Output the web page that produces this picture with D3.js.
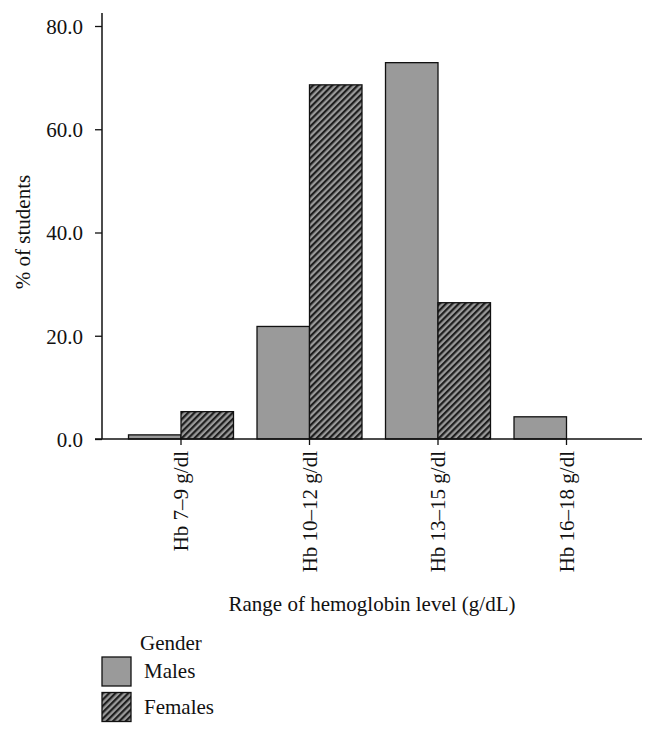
<!DOCTYPE html>
<html><head><meta charset="utf-8">
<script src="https://cdn.jsdelivr.net/npm/d3@7"></script>
<style>body{margin:0;background:#fff}svg{display:block}text{font-family:"Liberation Serif","DejaVu Serif",serif;fill:#111}</style>
</head><body>
<script>
const categories = ["Hb 7–9 g/dl","Hb 10–12 g/dl","Hb 13–15 g/dl","Hb 16–18 g/dl"];
const series = ["Males","Females"];
const males = [0.8, 21.8, 72.9, 4.3];
const females = [5.3, 68.6, 26.4, 0];
const yTicks = [0, 20, 40, 60, 80];

const W = 658, H = 736, FS = 21;
const svg = d3.select("body").append("svg").attr("width", W).attr("height", H);
const defs = svg.append("defs");
const pat = defs.append("pattern").attr("id","hatch").attr("patternUnits","userSpaceOnUse")
  .attr("width",4.5).attr("height",4.5).attr("patternTransform","rotate(45)");
pat.append("rect").attr("width",4.5).attr("height",4.5).attr("fill","#9a9a9a");
pat.append("rect").attr("x",0).attr("width",2.2).attr("height",4.5).attr("fill","#1e1e1e");

const x = d3.scaleBand().domain(categories).range([116.75, 630.75]).paddingInner(0.183).paddingOuter(0.0915);
const xs = d3.scaleBand().domain(series).range([0, x.bandwidth()]);
const y = d3.scaleLinear().domain([0, 80]).range([439, 26]);
const fills = {Males: "#9a9a9a", Females: "url(#hatch)"};

const data = categories.map((c,i)=>({c, vals:[{s:"Males",v:males[i]},{s:"Females",v:females[i]}]}));
const g = svg.append("g");
g.selectAll("g.grp").data(data).join("g").attr("transform", d=>`translate(${x(d.c)},0)`)
  .selectAll("rect").data(d=>d.vals.filter(e=>e.v>0)).join("rect")
  .attr("x", d=>xs(d.s)).attr("width", xs.bandwidth())
  .attr("y", d=>y(d.v)).attr("height", d=>y(0)-y(d.v))
  .attr("fill", d=>fills[d.s]).attr("stroke","#111").attr("stroke-width",1.3);

// Y axis
const ya = svg.append("g").attr("transform","translate(102,0)")
  .call(d3.axisLeft(y).tickValues(yTicks).tickFormat(d3.format(".1f")).tickSize(7).tickSizeOuter(0));
ya.select(".domain").remove();
ya.selectAll(".tick line").attr("stroke","#111").attr("stroke-width",1.3);
ya.selectAll(".tick text").attr("font-size",FS).attr("x",-19).attr("dy","0.35em")
  .style("font-family",'"Liberation Serif",serif').attr("fill","#111");
svg.append("line").attr("x1",102).attr("x2",102).attr("y1",13).attr("y2",439).attr("stroke","#111").attr("stroke-width",1.5);

// X axis
svg.append("line").attr("x1",95).attr("x2",642).attr("y1",439).attr("y2",439).attr("stroke","#111").attr("stroke-width",1.5);
const xa = svg.append("g").attr("transform","translate(0,439)")
  .call(d3.axisBottom(x).tickSize(6).tickSizeOuter(0));
xa.select(".domain").remove();
xa.selectAll(".tick line").attr("stroke","#111").attr("stroke-width",1.3);
xa.selectAll(".tick text").attr("font-size",FS).attr("transform","rotate(-90)")
  .attr("text-anchor","end").attr("x",-12).attr("y",0).attr("dy","0.35em")
  .style("font-family",'"Liberation Serif",serif').attr("fill","#111");

// Axis titles
svg.append("text").attr("transform","translate(30,232) rotate(-90)").attr("text-anchor","middle")
  .attr("font-size",FS).text("% of students");
svg.append("text").attr("x",372).attr("y",611).attr("text-anchor","middle")
  .attr("font-size",FS).text("Range of hemoglobin level (g/dL)");

// Legend
const lg = svg.append("g");
lg.append("text").attr("x",140).attr("y",650).attr("font-size",FS).text("Gender");
const li = lg.selectAll("g.li").data(series).join("g").attr("transform",(d,i)=>`translate(102,${657+i*35.5})`);
li.append("rect").attr("width",29).attr("height",29).attr("fill",d=>fills[d]).attr("stroke","#111").attr("stroke-width",1.3);
li.append("text").attr("x",42).attr("y",21).attr("font-size",FS).text(d=>d);
</script>
</body></html>
